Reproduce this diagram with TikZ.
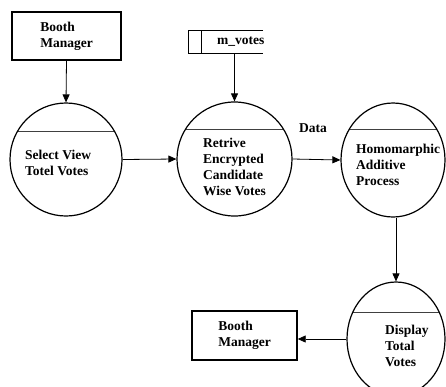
\documentclass[tikz,border=0pt]{standalone}
\usepackage{fontspec}
\setmainfont{Liberation Serif}
\usetikzlibrary{arrows.meta,shapes.geometric}

\begin{document}
\begin{tikzpicture}[x=1pt,y=-1pt,
  txt/.style={font=\fontsize{13.5}{16}\selectfont\bfseries, inner sep=0pt, align=left},
  entity/.style={draw, line width=1.4pt, inner sep=0pt, txt},
  proc/.style={ellipse, draw, line width=1.2pt, inner sep=0pt,
    path picture={\draw[line width=0.8pt, black!75]
      ([yshift=-#1]path picture bounding box.north west) --
      ([yshift=-#1]path picture bounding box.north east);}},
  proc/.default=28pt,
  store/.style={inner sep=0pt, minimum width=74pt, minimum height=22pt},
  flow/.style={line width=0.8pt, -{Triangle[length=8pt,width=7pt]}}
]
\useasboundingbox (0,0) rectangle (446,386);

% external entities
\node[entity, minimum width=109pt, minimum height=48pt] (bm1) at (66.5,36) {Booth\\Manager};
\node[entity, minimum width=105pt, minimum height=49pt] (bm2) at (244.5,335.5) {Booth\\Manager};

% data store: open on the right, with a small id compartment on the left
\node[store] (ds) at (226,42) {};
\draw[line width=0.8pt] (ds.north east) -- (ds.north west) -- (ds.south west) -- (ds.south east);
\draw[line width=0.8pt] ([xshift=13pt]ds.north west) -- ([xshift=13pt]ds.south west);
\node[txt, anchor=west] (dsl) at (217,42) {m\_votes};

% processes, each with its header line
\node[proc=28pt, minimum width=112pt, minimum height=113pt] (p1) at (66,159.5) {};
\node[proc=27pt, minimum width=115pt, minimum height=114pt] (p2) at (234.5,159) {};
\node[proc=26pt, minimum width=104pt, minimum height=114pt] (p3) at (393,160) {};
\node[proc=30pt, minimum width=98pt, minimum height=114pt] (p4) at (396,339) {};

\node[txt, anchor=west] (t1) at (25,162.5) {Select View\\Totel Votes};
\node[txt, anchor=west] (t2) at (203,166.5) {Retrive\\Encrypted\\Candidate\\Wise Votes};
\node[txt, anchor=west] (t3) at (356,165) {Homomarphic\\Additive\\Process};
\node[txt, anchor=west] (t4) at (385,345.5) {Display\\Total\\Votes};

% data flows
\draw[flow] (bm1.south) -- (p1.north);
\draw[flow] (ds.south -| p2.north) -- (p2.north);
\draw[flow] (p1.east) -- (p2.west);
\draw[flow] (p2.east) -- (p3.west);
\node[txt] (dl) at (313,128) {Data};
\draw[flow] (p3.south -| p4.north) -- (p4.north);
\draw[flow] (p4.west) -- (p4.west -| bm2.east);
\end{tikzpicture}
\end{document}
